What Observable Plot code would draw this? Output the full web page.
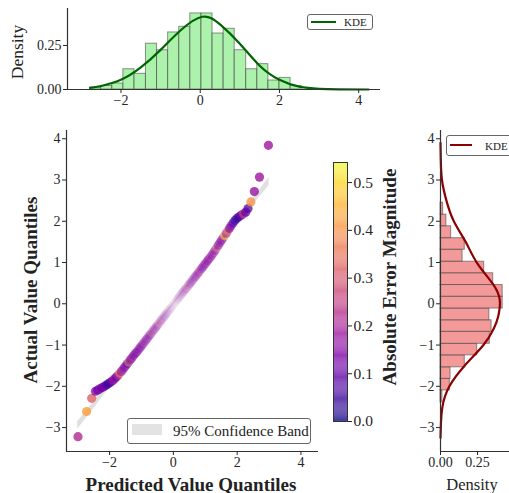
<!DOCTYPE html>
<html><head><meta charset="utf-8">
<script src="https://cdn.jsdelivr.net/npm/d3@7"></script>
<script src="https://cdn.jsdelivr.net/npm/@observablehq/plot@0.6"></script>
<style>
body{margin:0;background:#fff;}
#root{position:relative;width:509px;height:493px;overflow:hidden;font-family:"Liberation Serif",serif;color:#222;}
#root > .p{position:absolute;}
.leg{position:absolute;border:1px solid #666;border-radius:3px;background:#fff;box-sizing:border-box;}
.lbl{position:absolute;white-space:nowrap;transform:translate(-50%,-50%);line-height:1;}
.rot{transform:translate(-50%,-50%) rotate(-90deg);}
</style></head><body><div id="root"></div>
<script>
// ---------- data ----------
const predQ = [-2.99,-2.72,-2.56,-2.44,-2.37,-2.30,-2.23,-2.16,-2.10,-2.04,
  -1.98,-1.93,-1.88,-1.83,-1.78,-1.73,-1.68,-1.63,-1.58,-1.53,
  -1.48,-1.44,-1.40,-1.36,-1.32,-1.28,-1.24,-1.20,-1.16,-1.12,
  -1.08,-1.04,-1.00,-0.96,-0.92,-0.88,-0.84,-0.80,-0.76,-0.72,
  -0.68,-0.64,-0.60,-0.56,-0.52,-0.48,-0.44,-0.40,-0.36,-0.32,
  -0.28,-0.24,-0.20,-0.16,-0.12,-0.08,-0.04,0.00,0.04,0.08,
  0.12,0.16,0.20,0.24,0.28,0.32,0.36,0.40,0.44,0.48,
  0.52,0.56,0.60,0.64,0.68,0.72,0.76,0.80,0.84,0.88,
  0.92,0.96,1.00,1.04,1.08,1.12,1.16,1.21,1.26,1.31,
  1.36,1.41,1.46,1.51,1.56,1.61,1.66,1.71,1.76,1.81,
  1.87,1.93,1.99,2.06,2.13,2.20,2.27,2.34,2.43,2.54,
  2.70,2.98];
const actualQ = [-3.22,-2.61,-2.29,-2.12,-2.09,-2.06,-2.03,-2.00,-1.97,-1.94,
  -1.91,-1.88,-1.85,-1.81,-1.77,-1.73,-1.68,-1.64,-1.59,-1.54,
  -1.49,-1.45,-1.41,-1.37,-1.33,-1.29,-1.25,-1.21,-1.18,-1.14,
  -1.10,-1.06,-1.02,-0.98,-0.94,-0.90,-0.86,-0.82,-0.78,-0.74,
  -0.70,-0.66,-0.62,-0.58,-0.54,-0.50,-0.46,-0.42,-0.38,-0.34,
  -0.30,-0.26,-0.22,-0.18,-0.14,-0.10,-0.06,-0.02,0.02,0.06,
  0.10,0.14,0.18,0.22,0.26,0.30,0.34,0.37,0.41,0.45,
  0.49,0.53,0.57,0.61,0.65,0.69,0.73,0.77,0.81,0.85,
  0.89,0.93,0.97,1.01,1.05,1.09,1.13,1.18,1.24,1.30,
  1.36,1.42,1.48,1.54,1.60,1.65,1.71,1.77,1.83,1.89,
  1.96,2.02,2.07,2.11,2.15,2.18,2.22,2.31,2.47,2.72,
  3.07,3.84];
const absErr = [0.22,0.42,0.32,0.14,0.12,0.16,0.10,0.13,0.08,0.04,
  0.06,0.12,0.18,0.15,0.10,0.22,0.38,0.14,0.19,0.12,
  0.16,0.09,0.40,0.15,0.11,0.22,0.13,0.17,0.08,0.20,
  0.14,0.12,0.18,0.10,0.24,0.15,0.12,0.19,0.14,0.09,
  0.30,0.16,0.12,0.20,0.14,0.18,0.33,0.11,0.15,0.21,
  0.13,0.17,0.09,0.22,0.14,0.18,0.12,0.16,0.20,0.26,
  0.13,0.10,0.17,0.22,0.15,0.12,0.19,0.14,0.31,0.16,
  0.11,0.18,0.14,0.21,0.12,0.16,0.19,0.13,0.24,0.15,
  0.10,0.17,0.14,0.20,0.12,0.16,0.22,0.13,0.18,0.15,
  0.33,0.12,0.17,0.14,0.20,0.50,0.16,0.35,0.12,0.15,
  0.08,0.06,0.05,0.03,0.12,0.25,0.10,0.08,0.40,0.17,
  0.18,0.18];

const bandX  = [-3.0,-2.5,-2.0,-1.0,0.0,1.0,2.0,2.5,3.0];
const bandLo = [-3.04,-2.55,-2.03,-1.03,-0.03,0.95,1.92,2.40,2.86];
const bandHi = [-2.86,-2.38,-1.90,-0.95,0.03,1.03,2.03,2.55,3.06];

const topBinEdges = [-2.78,-2.50,-2.22,-1.94,-1.66,-1.37,-1.09,-0.81,-0.53,-0.25,0.03,0.31,0.59,0.87,1.16,1.44,1.72,2.00,2.28,2.56];
const topBinDensity = [0.011,0.020,0.034,0.115,0.089,0.260,0.223,0.324,0.356,0.432,0.432,0.318,0.345,0.223,0.115,0.144,0.051,0.066,0.019];
const topKdeX = [-2.78,-2.5,-2.0,-1.5,-1.0,-0.5,0.05,0.5,1.0,1.5,2.0,2.5,3.0,3.5,4.25];
const topKdeD = [0.009,0.02,0.055,0.125,0.225,0.335,0.413,0.37,0.26,0.135,0.055,0.016,0.004,0.001,0.0];

const rightBinEdges = [-2.39,-2.10,-1.82,-1.54,-1.25,-0.97,-0.68,-0.40,-0.115,0.17,0.455,0.74,1.02,1.31,1.59,1.88,2.16,2.45];
const rightBinDensity = [0.013,0.063,0.068,0.164,0.248,0.333,0.345,0.33,0.42,0.42,0.356,0.295,0.149,0.164,0.072,0.04,0.018];
const rightKdeY = [3.9,3.5,3.0,2.5,2.0,1.5,1.0,0.5,0.1,-0.3,-0.6,-1.0,-1.5,-2.0,-2.5,-3.0,-3.25];
const rightKdeD = [0.0,0.002,0.01,0.04,0.09,0.17,0.245,0.35,0.40,0.39,0.36,0.29,0.163,0.06,0.013,0.002,0.0];

const xTicks = [-2,0,2,4];
const yTicks = [-3,-2,-1,0,1,2,3,4];
const densTicks = [0,0.25];
const errTicks = [0,0.1,0.2,0.3,0.4,0.5];

// ---------- tables ----------
const points = predQ.map((x,i)=>({x, y: actualQ[i], e: absErr[i]}));
const band = bandX.map((x,i)=>({x, lo: bandLo[i], hi: bandHi[i]}));
const topBins = topBinDensity.map((d,i)=>({x0: topBinEdges[i], x1: topBinEdges[i+1], d}));
const topKde = topKdeX.map((x,i)=>({x, d: topKdeD[i]}));
const rightBins = rightBinDensity.map((d,i)=>({y0: rightBinEdges[i], y1: rightBinEdges[i+1], d}));
const rightKde = rightKdeY.map((y,i)=>({y, d: rightKdeD[i]}));

const XD = [-3.35, 4.55];
const YD = [-3.58, 4.2];
const ERRD = [0, 0.542];
const font = {fontFamily: "Liberation Serif, serif", fontSize: "14px", color: "#262626", background: "transparent", overflow: "visible"};
const root = document.getElementById("root");
function place(el, left, top){ el.classList.add("p"); el.style.left = left+"px"; el.style.top = top+"px"; root.appendChild(el); }
function label(text, cx, cy, size, bold, rot){
  const d = document.createElement("div");
  d.className = "lbl" + (rot ? " rot" : "");
  d.textContent = text;
  d.style.left = cx+"px"; d.style.top = cy+"px";
  d.style.fontSize = size+"px"; d.style.fontWeight = bold ? "bold" : "normal";
  root.appendChild(d);
}

// ---------- top histogram ----------
place(Plot.plot({
  width: 390, height: 112, marginLeft: 67, marginRight: 10, marginTop: 8, marginBottom: 23,
  x: {domain: XD}, y: {domain: [0, 0.46]}, style: font,
  marks: [
    Plot.rectY(topBins, {x1: "x0", x2: "x1", y: "d", fill: "#90ee90", fillOpacity: 0.75, stroke: "#4a4a4a", strokeOpacity: 0.6, strokeWidth: 1}),
    Plot.line(topKde, {x: "x", y: "d", stroke: "#006400", strokeWidth: 2.2, curve: "natural"}),
    Plot.ruleX([XD[0]], {stroke: "#333", strokeWidth: 1.2}),
    Plot.ruleY([0], {stroke: "#333", strokeWidth: 1.2}),
    Plot.axisX({ticks: xTicks, tickFormat: "d", tickSize: 4, tickPadding: 2, label: null}),
    Plot.axisY({ticks: densTicks, tickFormat: ".2f", tickSize: 4, tickPadding: 2, label: null})
  ]
}), 0, 0);

// ---------- main scatter ----------
place(Plot.plot({
  width: 320, height: 373, marginLeft: 66, marginRight: 2, marginTop: 10, marginBottom: 42,
  x: {domain: XD}, y: {domain: YD},
  color: {type: "linear", scheme: "plasma", domain: ERRD},
  opacity: {type: "identity"},
  style: font,
  marks: [
    Plot.areaY(band, {x: "x", y1: "lo", y2: "hi", fill: "#999", fillOpacity: 0.3}),
    Plot.dot(points, {x: "x", y: "y", fill: "e", r: 4.6, fillOpacity: d => Math.min(0.8, 0.04 + 0.3*Math.abs(d.x))}),
    Plot.ruleX([XD[0]], {stroke: "#333", strokeWidth: 1.2}),
    Plot.ruleY([YD[0]], {stroke: "#333", strokeWidth: 1.2}),
    Plot.axisX({ticks: xTicks, tickFormat: "d", tickSize: 4, tickPadding: 2, label: null}),
    Plot.axisY({ticks: yTicks, tickFormat: "d", tickSize: 4, tickPadding: 2, label: null})
  ]
}), 0, 120);

// ---------- colorbar ----------
const stops = d3.range(0, 0.542, 0.002);
place(Plot.plot({
  width: 100, height: 290, marginLeft: 13, marginRight: 73, marginTop: 12, marginBottom: 19,
  y: {domain: ERRD},
  color: {type: "linear", scheme: "plasma", domain: ERRD},
  style: {...font, fontSize: "15.5px"},
  marks: [
    Plot.rect(stops, {y1: d => d, y2: d => Math.min(0.542, d + 0.0022), fill: d => d, fillOpacity: 0.75}),
    Plot.frame({stroke: "#333", strokeWidth: 1}),
    Plot.axisY({anchor: "right", ticks: errTicks, tickFormat: ".1f", tickSize: 4, tickPadding: 2, label: null})
  ]
}), 320, 150);

// ---------- right histogram ----------
place(Plot.plot({
  width: 109, height: 373, marginLeft: 40, marginRight: 0, marginTop: 10, marginBottom: 42,
  x: {domain: [0, 0.466]}, y: {domain: YD}, style: font,
  marks: [
    Plot.rectX(rightBins, {y1: "y0", y2: "y1", x: "d", fill: "#f08080", fillOpacity: 0.8, stroke: "#4a4a4a", strokeOpacity: 0.6, strokeWidth: 1}),
    Plot.line(rightKde, {x: "d", y: "y", stroke: "#8b0000", strokeWidth: 2.2, curve: "natural"}),
    Plot.ruleX([0], {stroke: "#333", strokeWidth: 1.2}),
    Plot.ruleY([YD[0]], {stroke: "#333", strokeWidth: 1.2}),
    Plot.axisX({ticks: densTicks, tickFormat: ".2f", tickSize: 4, tickPadding: 2, label: null}),
    Plot.axisY({ticks: yTicks, tickFormat: "d", tickSize: 4, tickPadding: 2, label: null})
  ]
}), 400, 120);

// ---------- labels ----------
label("Density", 18, 52, 17.5, false, true);
label("Actual Value Quantiles", 30, 290, 19, true, true);
label("Predicted Value Quantiles", 191, 484, 19, true, false);
label("Absolute Error Magnitude", 389, 277, 19, true, true);
label("Density", 472, 485, 16.5, false, false);

// ---------- legends ----------
function legendBox(left, top, w, h){ const b = document.createElement("div"); b.className = "leg"; Object.assign(b.style, {left: left+"px", top: top+"px", width: w+"px", height: h+"px"}); root.appendChild(b); return b; }
function abs(el, css){ el.style.position = "absolute"; Object.assign(el.style, css); return el; }
{
  const b = legendBox(127, 418, 184, 26);
  b.appendChild(abs(document.createElement("div"), {left: "4px", top: "5px", width: "30px", height: "11px", background: "#e3e3e3"}));
  const t = abs(document.createElement("div"), {left: "45px", top: "4px", fontSize: "15px", lineHeight: "16px", whiteSpace: "nowrap"}); t.textContent = "95% Confidence Band"; b.appendChild(t);
}
{
  const b = legendBox(307, 14, 66, 16);
  b.appendChild(abs(document.createElement("div"), {left: "3px", top: "6px", width: "25px", height: "2px", background: "#006400"}));
  const t = abs(document.createElement("div"), {left: "36px", top: "1px", fontSize: "11px", lineHeight: "12px"}); t.textContent = "KDE"; b.appendChild(t);
}
{
  const b = legendBox(446, 135, 80, 21);
  b.appendChild(abs(document.createElement("div"), {left: "3px", top: "8px", width: "22px", height: "2px", background: "#8b0000"}));
  const t = abs(document.createElement("div"), {left: "38px", top: "4px", fontSize: "11px", lineHeight: "12px"}); t.textContent = "KDE"; b.appendChild(t);
}
</script></body></html>
